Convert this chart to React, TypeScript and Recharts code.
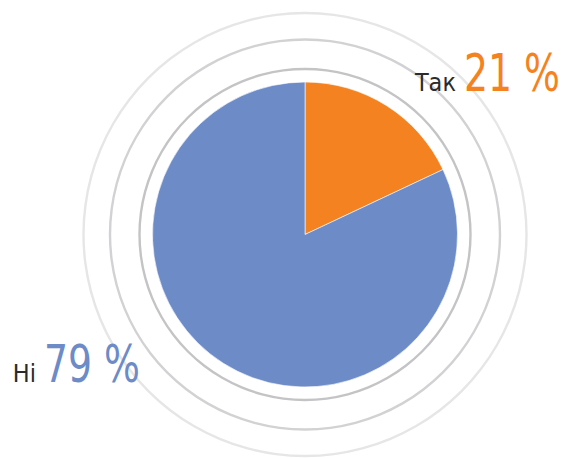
import { Pie, PieChart, Cell } from "recharts";

const answers = ["Так", "Ні"];
// slice sizes as drawn in the picture (the orange wedge spans ~65°)
const shares = [18, 82];
// percentages as printed on the labels
const shareLabels = ["21 %", "79 %"];
const sliceColors = ["#f58220", "#6c8bc7"];
const ringColors = ["#c4c4c6", "#d2d2d4", "#e6e6e6"];
const ringRadii = [165.5, 195, 221.5];

const data = answers.map((name, i) => ({ name, value: shares[i] }));
const ringData = [{ name: "ring", value: 1 }];

const CX = 305;
const CY = 234.5;

const labelPos = [
  { x: 456, y: 91 },
  { x: 36, y: 382 },
];

function renderLabel(props: any) {
  const { index } = props;
  const p = labelPos[index];
  const color = sliceColors[index];
  return (
    <g key={`lbl-${index}`}>
      <text
        x={p.x}
        y={p.y}
        textAnchor="end"
        fill="#2b2b2b"
        fontSize={25}
        fontFamily="'Liberation Sans Narrow', 'DejaVu Sans Condensed', 'Liberation Sans', sans-serif"
      >
        {answers[index]}
      </text>
      <text
        x={p.x + 8}
        y={p.y}
        textAnchor="start"
        fill={color}
        fontSize={51}
        fontFamily="'DejaVu Sans', sans-serif"
        textLength={96}
        lengthAdjust="spacingAndGlyphs"
      >
        {shareLabels[index]}
      </text>
    </g>
  );
}

export default function App() {
  return (
    <div style={{ position: "absolute", left: 0, top: 0 }}>
      <style>{`body{margin:0}`}</style>
      <PieChart
        width={569}
        height={458}
        margin={{ top: 0, right: 0, bottom: 0, left: 0 }}
      >
        {ringRadii.map((r, i) => (
          <Pie
            key={`ring-${i}`}
            data={ringData}
            dataKey="value"
            cx={CX}
            cy={CY}
            innerRadius={r - 1.2}
            outerRadius={r + 1.2}
            startAngle={90}
            endAngle={-270}
            fill={ringColors[i]}
            stroke="none"
            isAnimationActive={false}
          />
        ))}
        <Pie
          data={data}
          dataKey="value"
          cx={CX}
          cy={CY}
          outerRadius={152.5}
          startAngle={90}
          endAngle={-270}
          stroke="#ffffff"
          strokeWidth={0.6}
          label={renderLabel}
          labelLine={false}
          isAnimationActive={false}
        >
          {data.map((d, i) => (
            <Cell key={d.name} fill={sliceColors[i]} />
          ))}
        </Pie>
      </PieChart>
    </div>
  );
}
